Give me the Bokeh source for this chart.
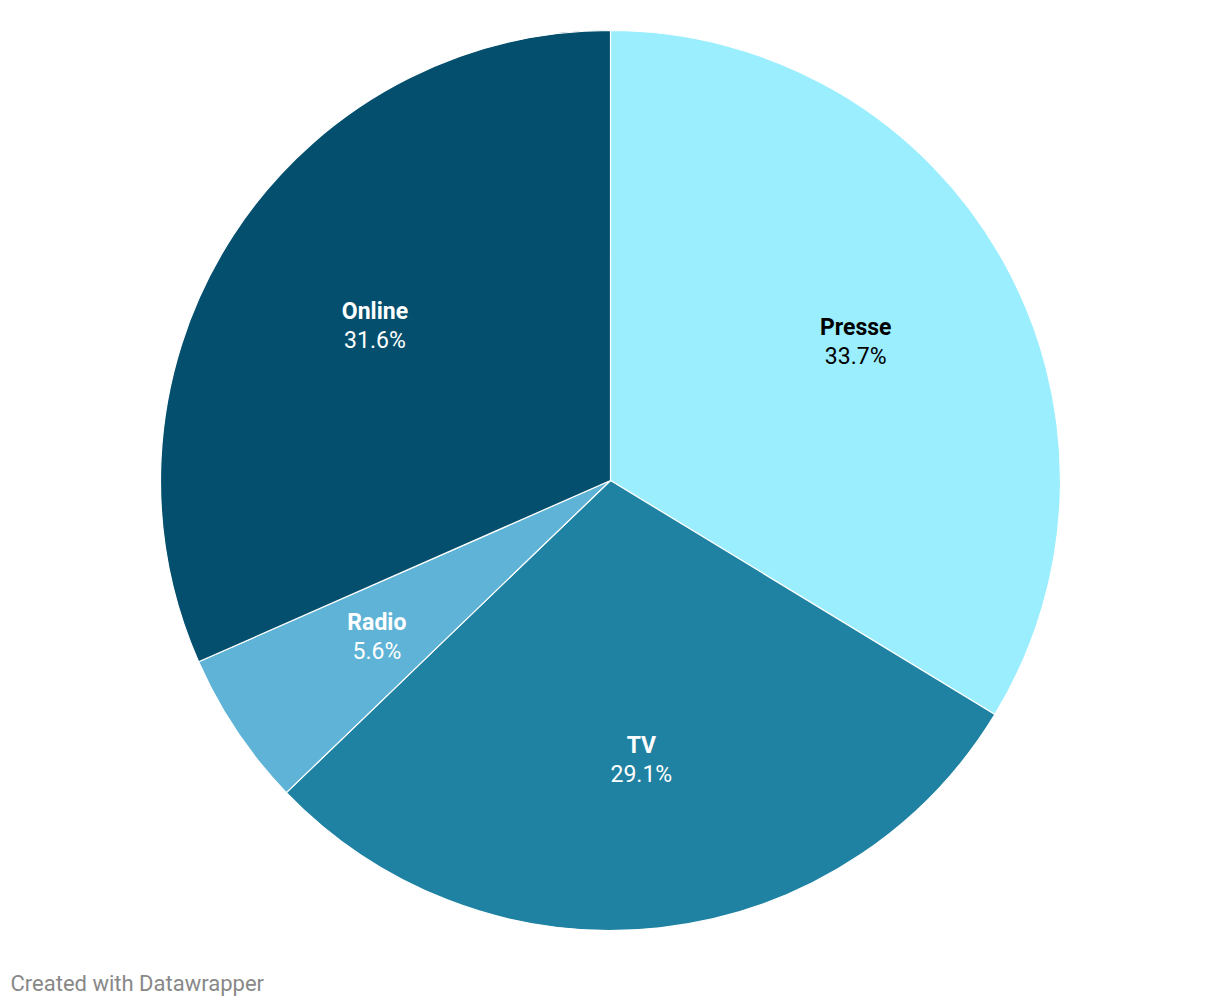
import math
from bokeh.plotting import figure
from bokeh.models import ColumnDataSource, Range1d
from bokeh.core.properties import value
from bokeh.embed import file_html
from bokeh.resources import INLINE

categories = ["Presse", "TV", "Radio", "Online"]
shares = [33.7, 29.1, 5.6, 31.6]
colors = ["#9beefe", "#1f82a2", "#5eb3d6", "#034f6d"]
text_colors = ["#000000", "#ffffff", "#ffffff", "#ffffff"]
footer = "Created with Datawrapper"

W, H = 1212, 998
cx, cy, R = 610, H - 480, 450
label_r = 0.625 * R

total = sum(shares)
starts, ends, lx, ly_name, ly_val, vals = [], [], [], [], [], []
cum = 0.0
for s in shares:
    a0 = math.pi / 2 - 2 * math.pi * cum / total
    cum += s
    a1 = math.pi / 2 - 2 * math.pi * cum / total
    starts.append(a0)
    ends.append(a1)
    mid = (a0 + a1) / 2
    x = cx + label_r * math.cos(mid)
    y = cy + label_r * math.sin(mid)
    lx.append(x)
    ly_name.append(y + 15)
    ly_val.append(y - 14)
    vals.append(f"{s:.1f}%")

src = ColumnDataSource(dict(cat=categories, start=starts, end=ends, color=colors,
                            tc=text_colors, lx=lx, lyn=ly_name, lyv=ly_val, val=vals))

p = figure(width=W, height=H, output_backend="svg", toolbar_location=None,
           x_range=Range1d(0, W), y_range=Range1d(0, H), min_border=0)
p.axis.visible = False
p.grid.visible = False
p.outline_line_color = None
p.background_fill_color = "white"
p.border_fill_color = "white"

p.wedge(x=cx, y=cy, radius=R, start_angle="start", end_angle="end", direction="clock",
        fill_color="color", line_color="white", line_width=1.2, source=src)

p.text(x="lx", y="lyn", text="cat", text_color="tc", source=src,
       text_font=value("Roboto"), text_font_style="bold", text_font_size="23px",
       text_align="center", text_baseline="alphabetic")
p.text(x="lx", y="lyv", text="val", text_color="tc", source=src,
       text_font=value("Roboto"), text_font_size="23px",
       text_align="center", text_baseline="alphabetic")

p.text(x=[10], y=[H - 983], text=[footer], text_color="#888888",
       text_font=value("Roboto"), text_font_size="22px",
       text_align="left", text_baseline="middle")

open("out.html", "w").write(file_html(p, INLINE))
